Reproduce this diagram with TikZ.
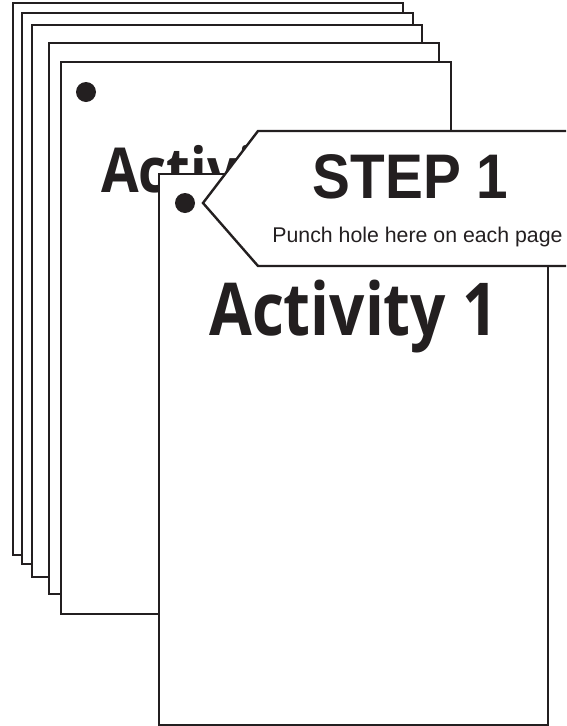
\documentclass[tikz,border=0pt]{standalone}
\usepackage{fontspec}
\setmainfont{Liberation Sans}
\newfontfamily\actfont{Open Sans}
\definecolor{ink}{HTML}{231F20}
\begin{document}
\begin{tikzpicture}[x=1pt,y=-1pt,
  page/.style={draw=ink, fill=white, line width=2.4pt},
  hole/.style={fill=ink, draw=none},
  tagshape/.style={draw=ink, fill=white, line width=2.4pt, line join=miter},
  acttext/.style={anchor=base west, inner sep=0pt, text=ink, font=\actfont\bfseries},
  steptext/.style={anchor=base, inner sep=0pt, text=ink, font=\bfseries\fontsize{63}{63}\selectfont},
  subtext/.style={anchor=base, inner sep=0pt, text=ink, font=\fontsize{21.3}{21.3}\selectfont}]
\useasboundingbox (0,0) rectangle (566,726);
\begin{scope}
\clip (0,0) rectangle (566,726);
% stacked back pages
\draw[page] (13,3) rectangle (403,555);
\draw[page] (22,13) rectangle (413,564);
\draw[page] (32,25) rectangle (422,577);
\draw[page] (49,43) rectangle (439,594);
\draw[page] (61,62) rectangle (451,614);
\fill[hole] (86,92) circle (10);
\node[acttext, font=\actfont\bfseries\fontsize{62}{62}\selectfont] (backtitle) at (101,192) {\scalebox{0.88}[1]{Activity 1}};
% front page
\draw[page] (159,174) rectangle (548,725);
\fill[hole] (185,203) circle (10);
\node[acttext, font=\actfont\bfseries\fontsize{73}{73}\selectfont] (fronttitle) at (209,335) {\scalebox{0.85}[1]{Activity 1}};
% step tag
\draw[tagshape] (590,131) -- (258,131) -- (203,203) -- (258,266) -- (590,266) -- cycle;
\node[steptext] (step) at (410.5,198) {\scalebox{0.9}[1]{STEP 1}};
\node[subtext] (punch) at (417.5,242) {Punch hole here on each page};
\end{scope}
\end{tikzpicture}
\end{document}
